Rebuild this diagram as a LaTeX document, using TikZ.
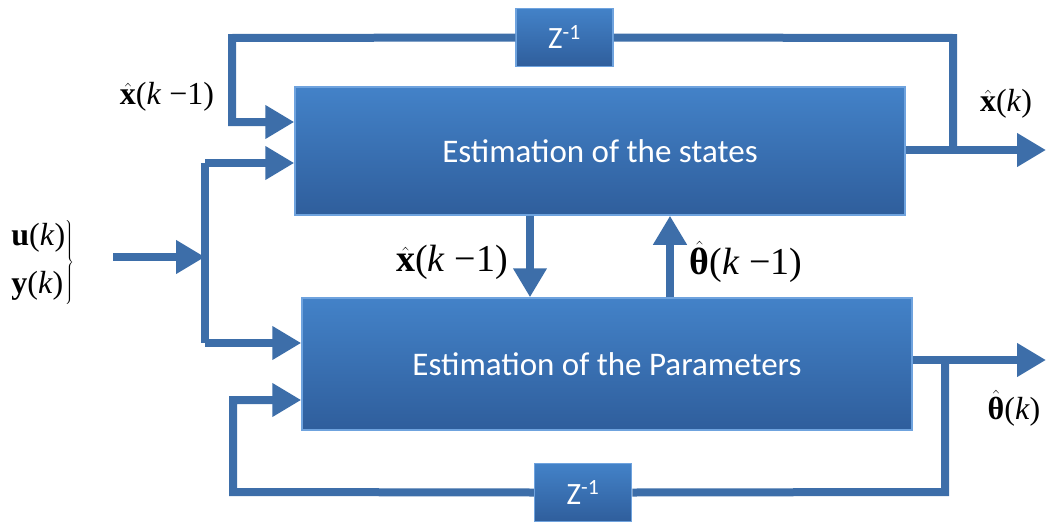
\documentclass[tikz,border=0pt]{standalone}
\usepackage{fontspec}
\usetikzlibrary{arrows.meta}
\newfontfamily\tnr{Liberation Serif}
\newfontfamily\carl{Carlito}
\definecolor{boxtop}{HTML}{4382C8}
\definecolor{boxbot}{HTML}{2F5E9C}
\definecolor{boxedge}{HTML}{6FA3DE}
\definecolor{arrblue}{HTML}{3D6EA9}
\newcommand{\xh}{$\hat{\mbox{\tnr\bfseries x}}$}
\newcommand{\thh}{$\hat{\mbox{\tnr\bfseries θ}}$}
\begin{document}
\begin{tikzpicture}[x=1pt,y=-1pt,
  bigbox/.style={draw=boxedge,line width=1.5pt,top color=boxtop,bottom color=boxbot,
    text=white,font=\carl\fontsize{33}{36}\selectfont,inner sep=0pt},
  zbox/.style={draw=boxedge,line width=1.5pt,top color=boxtop,bottom color=boxbot,
    text=white,font=\carl\fontsize{31}{34}\selectfont,inner sep=0pt,
    minimum width=97pt,minimum height=58pt},
  wire/.style={draw=arrblue,line width=8pt},
  arr/.style={draw=arrblue,line width=8pt,-{Triangle[length=29pt,width=32pt]}},
  lab/.style={font=\tnr\fontsize{32}{36}\selectfont,inner sep=0pt},
  blab/.style={font=\tnr\fontsize{38}{42}\selectfont,inner sep=0pt}]
\useasboundingbox (0,0) rectangle (1046,522);
% boxes
\node[bigbox,minimum width=610pt,minimum height=128pt] (S) at (600,151) {Estimation of the states};
\node[bigbox,minimum width=610pt,minimum height=132pt] (P) at (607,364) {Estimation of the Parameters};
\node[zbox] (Z1) at (564.5,37.5) {Z\textsuperscript{-1}};
\node[zbox] (Z2) at (583,492.5) {Z\textsuperscript{-1}};
% coordinates
\coordinate (o1) at (1046,150);
\coordinate (t1) at (953,150);
\coordinate (t1u) at (953,38);
\coordinate (l1u) at (232,38);
\coordinate (l1d) at (232,122);
\coordinate (o2) at (1046,360);
\coordinate (t2) at (945,360);
\coordinate (t2d) at (945,492);
\coordinate (l2d) at (233,492);
\coordinate (l2u) at (233,400);
\coordinate (in0) at (113,257);
\coordinate (bus) at (205,257);
\coordinate (busu) at (205,163);
\coordinate (busd) at (205,343);
% top feedback
\draw[wire] (t1) -- (t1u) -- (Z1.east);
\draw[arr] (Z1.west) -- (l1u) -- (l1d) -- (S.west |- l1d);
\draw[arr] (S.east |- o1) -- (o1);
% bottom feedback
\draw[arr] (P.east |- o2) -- (o2);
\draw[wire] (t2) -- (t2d) -- (Z2.east);
\draw[arr] (Z2.west) -- (l2d) -- (l2u) -- (P.west |- l2u);
% inputs
\draw[arr] (in0) -- (bus);
\draw[wire] (busu) -- (busd);
\draw[arr] (busu) -- (S.west |- busu);
\draw[arr] (busd) -- (P.west |- busd);
% middle
\draw[arr] (S.south -| 530,0) -- (P.north -| 530,0);
\draw[arr] (P.north -| 670,0) -- (S.south -| 670,0);
% labels
\node[lab] (lx1) at (167,97) {\xh(\textit{k} −1)};
\node[lab] (lxk) at (1006,104) {\xh(\textit{k})};
\node[lab] (lthk) at (1014,408) {\thh(\textit{k})};
\node[blab] (mx) at (452,262) {\xh(\textit{k} −1)};
\node[blab] (mth) at (746,262) {\thh(\textit{k} −1)};
\node[lab,anchor=west] (uy) at (10,262) {$\left.\begin{array}{@{}l@{}}\mbox{\tnr{\bfseries u}(\textit{k})}\\[12pt] \mbox{\tnr{\bfseries y}(\textit{k})}\end{array}\right\}$};
\end{tikzpicture}
\end{document}
